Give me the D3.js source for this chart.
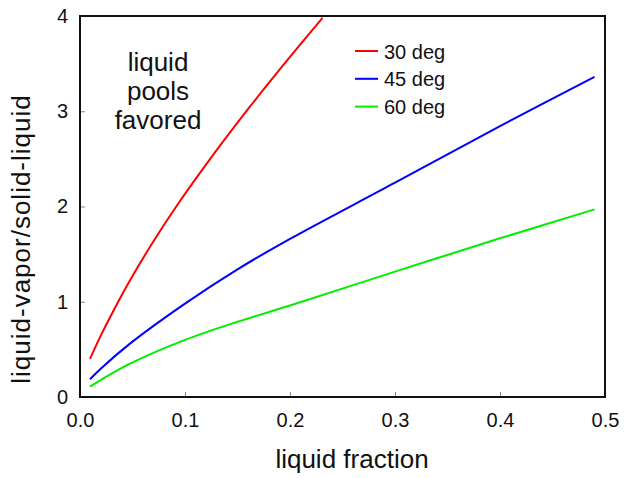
<!DOCTYPE html>
<html>
<head>
<meta charset="utf-8">
<script src="https://cdn.jsdelivr.net/npm/d3@7"></script>
<style>
body { margin:0; background:#fff; }
text { font-family: Arial, "Liberation Sans", sans-serif; fill:#111; }
</style>
</head>
<body>
<svg id="drawing_region"></svg>
<script>
// values
const series_names = ["30 deg", "45 deg", "60 deg"];
const series_colors = ["#ff0000", "#0000ff", "#00ee00"];
const x30 = [0.0095, 0.02, 0.033, 0.05, 0.07, 0.092, 0.12, 0.162, 0.2, 0.231];
const y30 = [0.40, 0.65, 0.93, 1.27, 1.635, 2.005, 2.44, 3.05, 3.57, 3.98];
const x45 = [0.0095, 0.02, 0.0476, 0.1, 0.15, 0.2, 0.3, 0.4, 0.49];
const y45 = [0.186, 0.30, 0.56, 0.98, 1.34, 1.66, 2.25, 2.845, 3.36];
const x60 = [0.0095, 0.02, 0.0476, 0.1, 0.15, 0.2, 0.3, 0.4, 0.49];
const y60 = [0.108, 0.18, 0.35, 0.60, 0.79, 0.96, 1.316, 1.666, 1.97];
const xticks = [0, 0.1, 0.2, 0.3, 0.4, 0.5];
const yticks = [0, 1, 2, 3, 4];
const note_lines = ["liquid", "pools", "favored"];

const data = [
  x30.map((x, i) => ({x: x, y: y30[i]})),
  x45.map((x, i) => ({x: x, y: y45[i]})),
  x60.map((x, i) => ({x: x, y: y60[i]}))
];

var config = {
  width: 630, height: 478,
  margin: {top:16, right:25, bottom:81, left:80}
};
const inner_width = config.width - config.margin.left - config.margin.right;
const inner_height = config.height - config.margin.top - config.margin.bottom;

const svg = d3.select('#drawing_region')
  .attr('width', config.width)
  .attr('height', config.height);
const chart = svg.append('g')
  .attr('transform', `translate(${config.margin.left}, ${config.margin.top})`);

const xscale = d3.scaleLinear().domain([0, 0.5]).range([0, inner_width]);
const yscale = d3.scaleLinear().domain([0, 4]).range([inner_height, 0]);

// ticks point inward, labels drawn separately
const xaxis = d3.axisBottom(xscale).tickValues(xticks).tickSize(-5).tickFormat(d3.format('.1f'));
const yaxis = d3.axisLeft(yscale).tickValues(yticks).tickSize(-5).tickFormat(d3.format('d'));

const xg = chart.append('g')
  .attr('transform', `translate(0, ${inner_height})`)
  .call(xaxis);
const yg = chart.append('g').call(yaxis);
[xg, yg].forEach(g => {
  g.select('.domain').remove();
  g.selectAll('.tick line').attr('stroke', '#888').attr('stroke-width', 1);
  g.selectAll('.tick text').attr('font-size', 20).attr('fill', '#111')
    .attr('font-family', 'Arial, "Liberation Sans", sans-serif');
});
xg.selectAll('.tick text').attr('dy', '0.71em').attr('y', 16);
yg.selectAll('.tick text').attr('x', -12);

const line = d3.line()
  .x(d => xscale(d.x))
  .y(d => yscale(d.y))
  .curve(d3.curveCatmullRom.alpha(0.5));

chart.selectAll('path.curve')
  .data(data)
  .enter()
  .append('path')
  .attr('class', 'curve')
  .attr('d', line)
  .attr('fill', 'none')
  .attr('stroke', (d, i) => series_colors[i])
  .attr('stroke-width', 2);

// frame
chart.append('rect')
  .attr('x', 0).attr('y', 0)
  .attr('width', inner_width).attr('height', inner_height)
  .attr('fill', 'none').attr('stroke', '#111').attr('stroke-width', 2);

// legend
const legend = chart.append('g').attr('transform', 'translate(275, 35)');
series_names.forEach((name, i) => {
  legend.append('line')
    .attr('x1', 0).attr('x2', 23)
    .attr('y1', i * 27.8).attr('y2', i * 27.8)
    .attr('stroke', series_colors[i]).attr('stroke-width', 2);
  legend.append('text')
    .attr('x', 29).attr('y', i * 27.8 + 7.5)
    .attr('font-size', 20)
    .text(name);
});

// annotation
note_lines.forEach((t, i) => {
  chart.append('text')
    .attr('x', 78).attr('y', 55 + i * 29)
    .attr('text-anchor', 'middle')
    .attr('font-size', 26)
    .text(t);
});

// axis titles
svg.append('text')
  .attr('x', 352).attr('y', 468)
  .attr('text-anchor', 'middle')
  .attr('font-size', 26)
  .text('liquid fraction');

svg.append('text')
  .attr('transform', 'translate(30, 239) rotate(-90)')
  .attr('text-anchor', 'middle')
  .attr('font-size', 26)
  .attr('letter-spacing', 1)
  .text('liquid-vapor/solid-liquid');
</script>
</body>
</html>
